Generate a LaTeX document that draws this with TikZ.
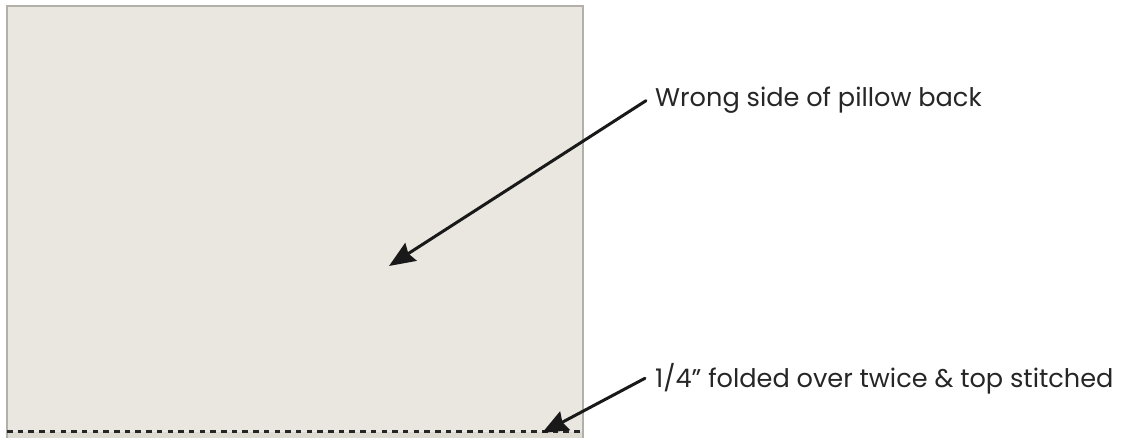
\documentclass[tikz,border=0pt]{standalone}
\usepackage{fontspec}
\setmainfont{Poppins}
\usetikzlibrary{arrows.meta,positioning}
\definecolor{backfill}{HTML}{EAE7E0}
\definecolor{backedge}{HTML}{B3B0AA}
\definecolor{hemfill}{HTML}{DEDBD3}
\tikzset{
  callout/.style={anchor=base west, inner sep=0pt, font=\fontsize{25.6}{30}\selectfont, text=black!85},
  pointer/.style={-{Stealth[length=26pt, width=21pt, inset=3pt]}, line width=3pt, black!90, line cap=round},
  stitch/.style={line width=3pt, black!85, dash pattern=on 5.5pt off 5.2pt},
}
\begin{document}
\begin{tikzpicture}[x=1pt, y=-1pt]
\useasboundingbox (0,0) rectangle (1139,438);

% Pillow back panel
\fill[backfill] (7,6) rectangle (583,438);
\fill[hemfill] (7,432) rectangle (583,438);
\draw[backedge, line width=1.5pt] (7,438) -- (7,6) -- (583,6) -- (583,438);

% Top stitching
\coordinate (stitchL) at (7,431);
\coordinate (stitchR) at (583,431);
\draw[stitch] (stitchL) -- (stitchR);

% Labels
\node[callout] (wronglbl) at (655,107) {Wrong side of pillow back};
\node[callout] (hemlbl) at (655,387) {1/4” folded over twice \& top stitched};

% Arrow targets
\coordinate (wrongtip) at (389,266);
\coordinate (hemtip) at (542,433);

% Pointers
\draw[pointer] ([xshift=-9pt]wronglbl.west) -- (wrongtip);
\draw[pointer] ([xshift=-10pt]hemlbl.west) -- (hemtip);

\end{tikzpicture}
\end{document}
